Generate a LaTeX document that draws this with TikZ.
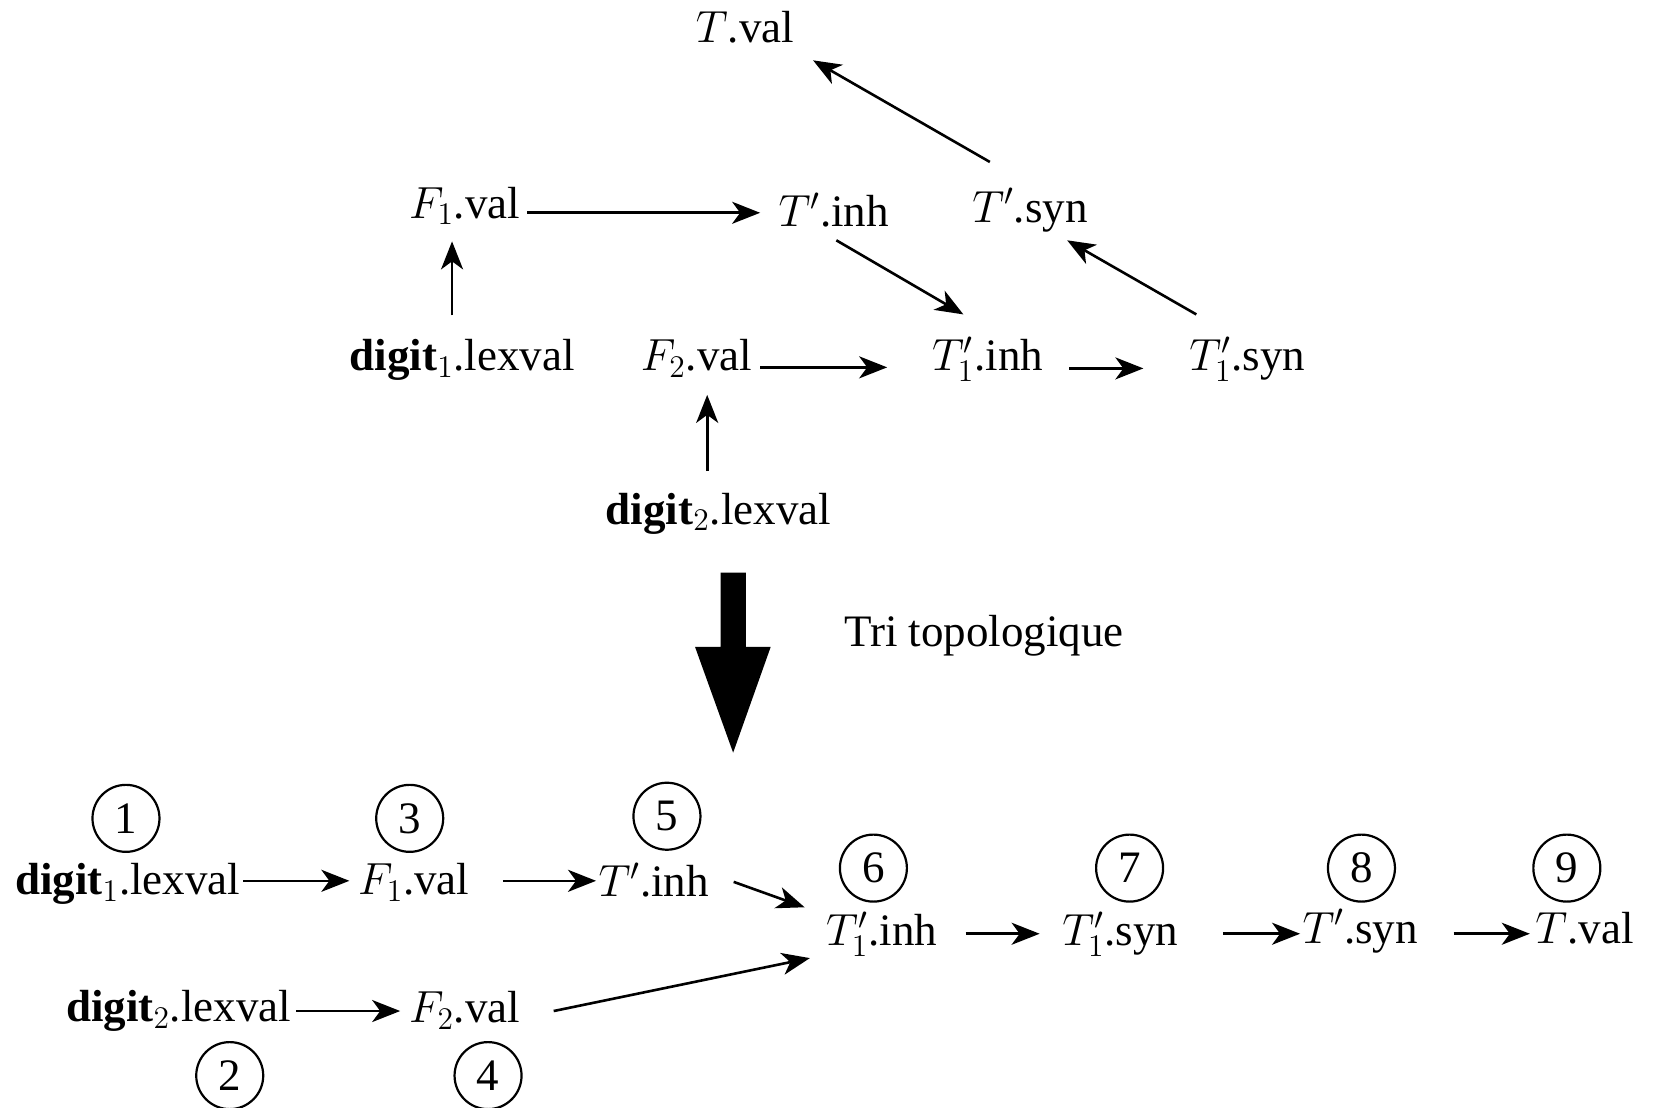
\RequirePackage{fix-cm}
\documentclass[tikz,border=0pt]{standalone}
\usepackage[no-math]{fontspec}
\setmainfont{Liberation Serif}
\DeclareMathSizes{22.5}{22.5}{15.75}{11.25}
\usetikzlibrary{arrows.meta}
\tikzset{
  lbl/.style={inner sep=0pt, anchor=base west, font=\fontsize{22.5pt}{27pt}\selectfont},
  num/.style={circle, draw, line width=1.1pt, minimum size=33.5pt, inner sep=0pt, font=\fontsize{22.5pt}{27pt}\selectfont},
  arr/.style={-{Stealth[length=14pt,width=11pt,inset=4pt]}, line width=1.3pt},
}
\begin{document}
\begin{tikzpicture}[x=0.52935pt, y=-0.52935pt]
\useasboundingbox (0,0) rectangle (1568,1046);
% ---------- top graph ----------
\node[lbl] (tval) at (657,40) {$T$.val};
\node[lbl] (f1) at (386,206) {$F_1$.val};
\node[lbl] (tpi) at (735,214) {$T'$.inh};
\node[lbl] (tps) at (918,210) {$T'$.syn};
\node[lbl] (d1) at (330,350) {\textbf{digit}$_1$.lexval};
\node[lbl] (f2) at (605,350) {$F_2$.val};
\node[lbl] (t1i) at (880,350) {$T'_1$.inh};
\node[lbl] (t1s) at (1123,350) {$T'_1$.syn};
\node[lbl] (d2) at (572,495) {\textbf{digit}$_2$.lexval};

\draw[arr] ([shift={(97,-52)}]d1.base west) -- ([shift={(41,22)}]f1.base west);
\draw[arr] ([shift={(112,-5)}]f1.base west) -- ([shift={(-17,-13)}]tpi.base west);
\draw[arr] ([shift={(55,13)}]tpi.base west) -- ([shift={(30,-53)}]t1i.base west);
\draw[arr] ([shift={(17,-57)}]tps.base west) -- ([shift={(111,17)}]tval.base west);
\draw[arr] ([shift={(7,-53)}]t1s.base west) -- ([shift={(90,17)}]tps.base west);
\draw[arr] ([shift={(113,-3)}]f2.base west) -- ([shift={(-42,-3)}]t1i.base west);
\draw[arr] ([shift={(130,-2)}]t1i.base west) -- ([shift={(-43,-2)}]t1s.base west);
\draw[arr] ([shift={(96,-50)}]d2.base west) -- ([shift={(63,23)}]f2.base west);

% ---------- big arrow ----------
\fill (680.7,541) -- (704.6,541) -- (704.6,611) -- (728,611) -- (692.5,711) -- (656.5,611) -- (680.7,611) -- cycle;
\node[lbl] (tri) at (797,611) {Tri topologique};

% ---------- bottom sequence ----------
\node[lbl] (bd1) at (14,845) {\textbf{digit}$_1$.lexval};
\node[lbl] (bf1) at (338,845) {$F_1$.val};
\node[lbl] (btpi) at (565,847) {$T'$.inh};
\node[lbl] (bt1i) at (780,893) {$T'_1$.inh};
\node[lbl] (bt1s) at (1003,893) {$T'_1$.syn};
\node[lbl] (btps) at (1230,891) {$T'$.syn};
\node[lbl] (btval) at (1450,891) {$T$.val};
\node[lbl] (bd2) at (62,965) {\textbf{digit}$_2$.lexval};
\node[lbl] (bf2) at (386,966) {$F_2$.val};

\node[num] (c1) at (119,773) {1};
\node[num] (c3) at (387,773) {3};
\node[num] (c5) at (630,771) {5};
\node[num] (c6) at (825,820) {6};
\node[num] (c7) at (1067,820) {7};
\node[num] (c8) at (1286,820) {8};
\node[num] (c9) at (1480,820) {9};
\node[num] (c2) at (217,1016) {2};
\node[num] (c4) at (461,1016) {4};

\draw[arr] ([shift={(216,-13)}]bd1.base west) -- ([shift={(-8,-13)}]bf1.base west);
\draw[arr] ([shift={(137,-13)}]bf1.base west) -- ([shift={(-2,-15)}]btpi.base west);
\draw[arr] ([shift={(128,-14)}]btpi.base west) -- ([shift={(-20,-36)}]bt1i.base west);
\draw[arr] ([shift={(137,-11)}]bf2.base west) -- ([shift={(-15,12)}]bt1i.base west);
\draw[arr] ([shift={(218,-10)}]bd2.base west) -- ([shift={(-8,-11)}]bf2.base west);
\draw[arr] ([shift={(132,-11)}]bt1i.base west) -- ([shift={(-21,-11)}]bt1s.base west);
\draw[arr] ([shift={(152,-11)}]bt1s.base west) -- ([shift={(-2,-9)}]btps.base west);
\draw[arr] ([shift={(143,-9)}]btps.base west) -- ([shift={(-5,-9)}]btval.base west);
\end{tikzpicture}
\end{document}
